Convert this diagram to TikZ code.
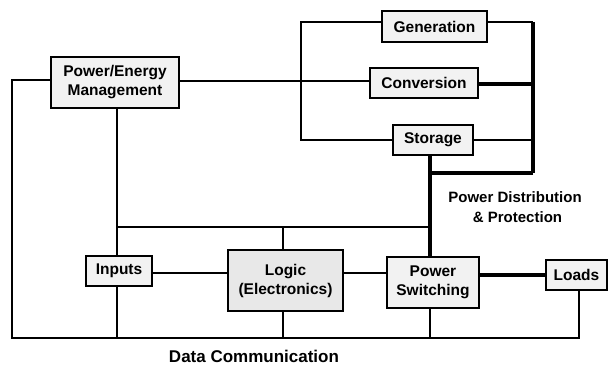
\documentclass[tikz,border=0pt]{standalone}
\usepackage{fontspec}
\setmainfont{Liberation Sans}
\begin{document}
\begin{tikzpicture}[x=1pt,y=-1pt,
  blk/.style={draw=black, line width=1.5pt, fill=gray!10, align=center,
    inner sep=0pt, font=\fontsize{15.5}{19}\selectfont\bfseries},
  wire/.style={line width=1.2pt},
  feed/.style={line width=2.4pt},
  bus/.style={line width=4pt},
  lbl/.style={align=center, font=\fontsize{15}{20}\selectfont\bfseries}]
\useasboundingbox (0,0) rectangle (610,366);
% sources and storage
\node[blk, minimum width=128pt, minimum height=51pt] (pem) at (115,82.5) {Power/Energy\\Management};
\node[blk, minimum width=105pt, minimum height=31pt] (gen) at (434.5,26.5) {Generation};
\node[blk, minimum width=108pt, minimum height=30pt] (conv) at (424,83) {Conversion};
\node[blk, minimum width=80pt, minimum height=30pt] (stor) at (433,140) {Storage};
% control and load chain
\node[blk, minimum width=66pt, minimum height=30pt] (inp) at (119,271) {Inputs};
\node[blk, fill=gray!18, minimum width=115pt, minimum height=61pt] (logic) at (285.5,280.5) {Logic\\(Electronics)};
\node[blk, minimum width=92pt, minimum height=51pt] (psw) at (433,282.5) {Power\\Switching};
\node[blk, minimum width=61pt, minimum height=30pt] (loads) at (576.5,275) {Loads};
% labels
\node[lbl] (pdp) at (515,207) {Power Distribution\\\,\,\& Protection};
\node[lbl, font=\fontsize{17}{20}\selectfont\bfseries] (dc) at (254,356) {Data Communication};
% junction points
\coordinate (busT) at (533,22);
\coordinate (busB) at (533,173);
\coordinate (lt) at (301,22);
\coordinate (lb) at (301,140);
\coordinate (ctl) at (117,227);
\coordinate (ctr) at (430,227);
\coordinate (dl) at (12,80);
\coordinate (db) at (12,338);
% power distribution bus
\draw[feed] ([yshift=4.5pt]gen.east) -- (busT);
\draw[bus] (busT) -- (busB);
\draw[bus] ([yshift=-1pt]conv.east) -- ([yshift=-1pt]conv.east -| busT);
\draw[feed] (stor.east) -- (stor.east -| busT);
\draw[bus] ([xshift=-3pt]stor.south) -- ([xshift=-3pt]stor.south |- psw.north);
\draw[bus] (busB) -- ([xshift=-3pt]stor.south |- busB);
\draw[bus] (psw.east |- loads.west) -- (loads.west);
% energy management links
\draw[wire] ([yshift=4.5pt]gen.west) -- (lt) -- (lb) -- (stor.west);
\draw[wire] ([yshift=1.5pt]pem.east) -- ([yshift=1.5pt]pem.east -| conv.west);
\draw[wire] ([xshift=2pt]pem.south) -- ([xshift=2pt]pem.south |- inp.north);
\draw[wire] (ctl) -- (ctr);
\draw[wire] (logic.north -| 283,0) -- (283,227);
\draw[wire] (inp.east |- 0,273) -- (logic.west |- 0,273);
\draw[wire] (logic.east |- 0,273) -- (psw.west |- 0,273);
% data communication network
\draw[wire] ([yshift=2.5pt]pem.west) -- (dl) -- (db) -- (db -| 579,0) -- (loads.south -| 579,0);
\draw[wire] ([xshift=-2pt]inp.south) -- ([xshift=-2pt]inp.south |- db);
\draw[wire] (logic.south -| 283,0) -- (283,338);
\draw[wire] ([xshift=-3pt]psw.south) -- ([xshift=-3pt]psw.south |- db);
\end{tikzpicture}
\end{document}
